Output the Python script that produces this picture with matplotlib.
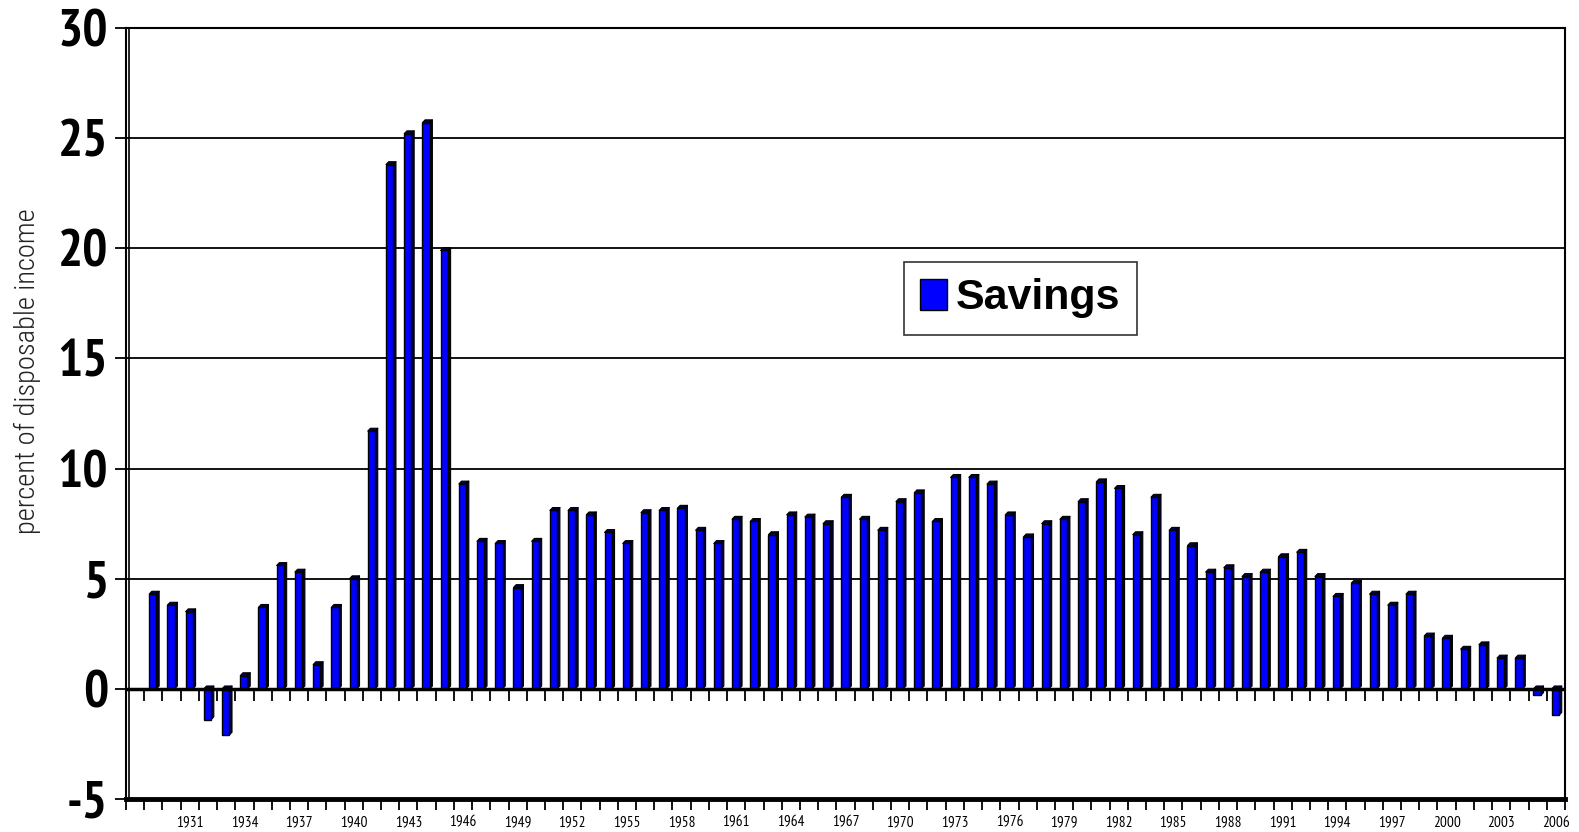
import matplotlib
matplotlib.use("Agg")
import matplotlib.pyplot as plt
import numpy as np
from matplotlib.collections import PolyCollection
from matplotlib.patches import Patch

years = list(range(1929, 2007))
savings = [
    4.3, 3.8, 3.5, -1.4, -2.1, 0.6, 3.7, 5.6, 5.3, 1.1,      # 1929-1938
    3.7, 5.0, 11.7, 23.8, 25.2, 25.7, 19.9, 9.3, 6.7, 6.6,   # 1939-1948
    4.6, 6.7, 8.1, 8.1, 7.9, 7.1, 6.6, 8.0, 8.1, 8.2,        # 1949-1958
    7.2, 6.6, 7.7, 7.6, 7.0, 7.9, 7.8, 7.5, 8.7, 7.7,        # 1959-1968
    7.2, 8.5, 8.9, 7.6, 9.6, 9.6, 9.3, 7.9, 6.9, 7.5,        # 1969-1978
    7.7, 8.5, 9.4, 9.1, 7.0, 8.7, 7.2, 6.5, 5.3, 5.5,        # 1979-1988
    5.1, 5.3, 6.0, 6.2, 5.1, 4.2, 4.8, 4.3, 3.8, 4.3,        # 1989-1998
    2.4, 2.3, 1.8, 2.0, 1.4, 1.4, -0.3, -1.2,                # 1999-2006
]
label_years = list(range(1931, 2007, 3))
y_ticks = [-5, 0, 5, 10, 15, 20, 25, 30]

NARROW = ["PT Sans Narrow", "Archivo Narrow", "DejaVu Sans"]
LIGHT = ["Roboto Condensed", "PT Sans Narrow", "DejaVu Sans"]
ARIAL = ["Liberation Sans", "DejaVu Sans"]
BLUE = "#0000ff"
DARK = "#000040"

fig = plt.figure(figsize=(15.79, 8.32), dpi=100)
ax = fig.add_axes([126 / 1579, 1 - 799 / 832, (1565 - 126) / 1579, (799 - 28) / 832])

x = np.array(years, dtype=float)
v = np.array(savings)
w = 0.40      # front face width
d = 0.15      # depth offset (x, in slots)
dy = 0.13     # depth offset (y, in data units)
xc = x - 0.03

# front faces
ax.bar(xc, v, width=w, color=BLUE, edgecolor="black", linewidth=1.0, zorder=3)

# side and top faces for the 3D look
sides, tops = [], []
for xi, vi in zip(xc, v):
    r = xi + w / 2
    l = xi - w / 2
    lo, hi = min(0, vi), max(0, vi)
    sides.append([(r, lo), (r + d, lo + dy), (r + d, hi + dy), (r, hi)])
    tops.append([(l, hi), (l + d, hi + dy), (r + d, hi + dy), (r, hi)])
ax.add_collection(PolyCollection(sides, facecolors=DARK, edgecolors="black", linewidths=0.8, zorder=2.9))
ax.add_collection(PolyCollection(tops, facecolors=DARK, edgecolors="black", linewidths=0.8, zorder=3.1))

ax.set_xlim(1927.5, 2006.5)
ax.set_ylim(-5, 30)

# gridlines
for yv in y_ticks[2:]:
    ax.axhline(yv, color="black", linewidth=1.3, zorder=1)
ax.axhline(0, color="black", linewidth=2.5, zorder=4)

# ticks below the zero line at slot boundaries
bounds = np.arange(1927.5, 2007.0, 1.0)
ax.vlines(bounds, -0.55, 0, color="black", linewidth=1.3, zorder=4)

# wall (double left line)
ax.axvline(1927.5 + 0.17, color="black", linewidth=1.2, zorder=4)

ax.set_yticks(y_ticks)
ax.set_yticklabels([str(t) for t in y_ticks], fontsize=38, fontweight="bold", family=NARROW)
ax.tick_params(axis="y", length=8, width=1.3, pad=5)

ax.set_xticks(bounds, minor=True)
ax.set_xticks(label_years)
ax.set_xticklabels([str(t) for t in label_years], fontsize=11, family=NARROW)
ax.tick_params(axis="x", which="major", length=0, pad=12)
ax.tick_params(axis="x", which="minor", length=8, width=1.3)

for s in ["top", "right", "left"]:
    ax.spines[s].set_linewidth(1.5)
ax.spines["bottom"].set_linewidth(3.5)

ax.set_ylabel("percent of disposable income", fontsize=20.5, family=LIGHT,
              fontweight="light", color="#222222")
ax.yaxis.set_label_coords(-0.059, 0.555)

leg = ax.legend(handles=[Patch(facecolor=BLUE, edgecolor="black", label="Savings")],
                loc="upper left", bbox_to_anchor=((904 - 126) / 1439, (799 - 262) / 771),
                prop={"family": ARIAL, "size": 31, "weight": "bold"},
                frameon=True, fancybox=False, edgecolor="black", handlelength=0.62,
                handleheight=0.75, handletextpad=0.2, borderpad=0.38, borderaxespad=0)
leg.get_frame().set_linewidth(1.2)

fig.savefig("out.png", dpi=100)
